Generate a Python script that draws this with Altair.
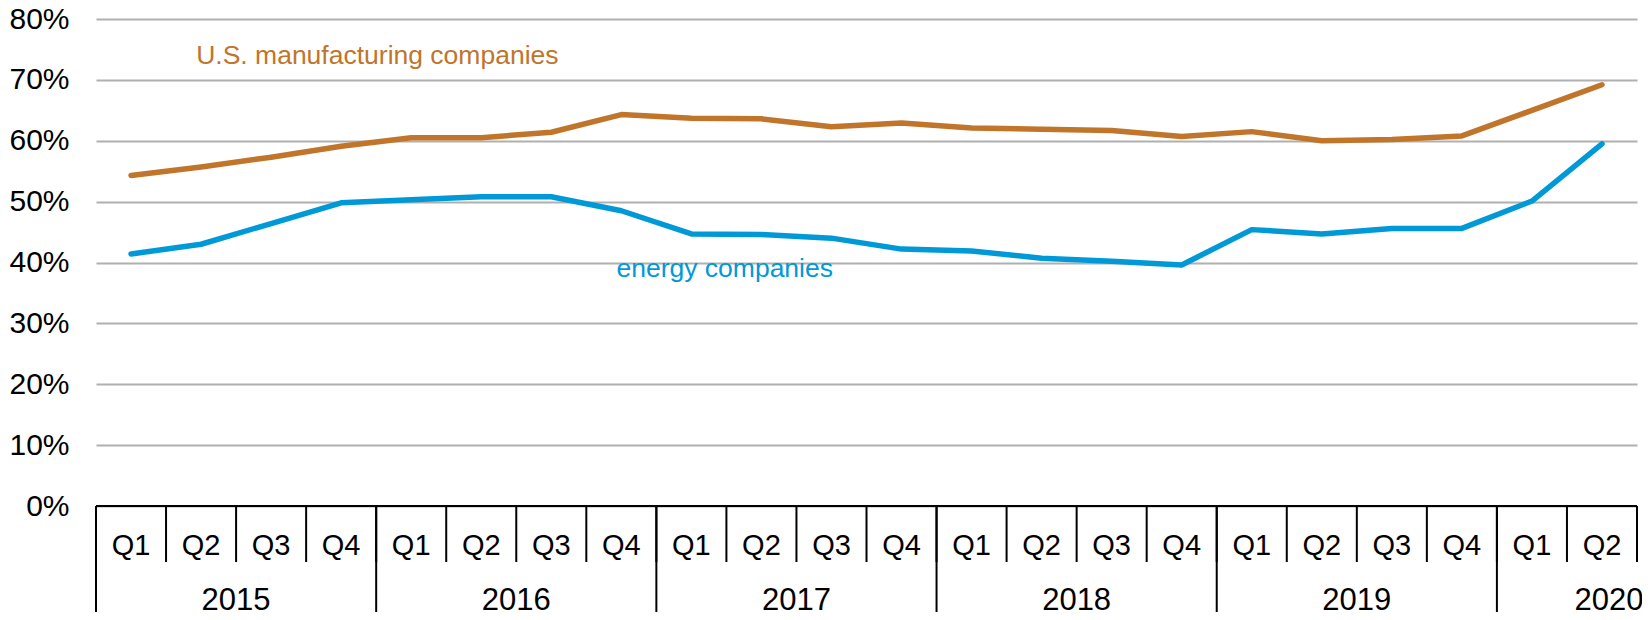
import altair as alt
import pandas as pd

# ---- data ----
years = ["2015"] * 4 + ["2016"] * 4 + ["2017"] * 4 + ["2018"] * 4 + ["2019"] * 4 + ["2020"] * 2
quarters = ["Q1", "Q2", "Q3", "Q4"] * 5 + ["Q1", "Q2"]
manufacturing = [54.3, 55.7, 57.3, 59.1, 60.5, 60.5, 61.4, 64.3,
                 63.7, 63.6, 62.3, 62.9, 62.1, 61.9, 61.7, 60.7,
                 61.5, 60.0, 60.2, 60.8, 65.0, 69.2]
energy = [41.4, 43.0, 46.4, 49.8, 50.3, 50.8, 50.8, 48.5,
          44.7, 44.6, 44.0, 42.2, 41.9, 40.7, 40.2, 39.6,
          45.4, 44.7, 45.6, 45.6, 50.1, 59.5]
series_names = ["U.S. manufacturing companies", "energy companies"]
series_colors = ["#C0752B", "#0099D8"]
# annotation anchors (category-index units, percent)
label_x = [1.43, 7.43]
label_y = [72.6, 37.6]
y_ticks = [0, 10, 20, 30, 40, 50, 60, 70, 80]

FONT = "Liberation Sans"
n = len(quarters)

rows = []
for name, vals in zip(series_names, [manufacturing, energy]):
    for i, v in enumerate(vals):
        rows.append({"series": name, "pos": i + 0.5, "value": v})
df_lines = pd.DataFrame(rows)

df_q = pd.DataFrame({"pos": [i + 0.5 for i in range(n)], "quarter": quarters})
df_bounds = pd.DataFrame({"b": list(range(n + 1))})
year_starts = [i for i in range(n) if i == 0 or years[i] != years[i - 1]]
df_ybounds = pd.DataFrame({"b": year_starts})

year_rows = []
for y in dict.fromkeys(years):
    idx = [i for i, yy in enumerate(years) if yy == y]
    year_rows.append({"year": y, "center": sum(i + 0.5 for i in idx) / len(idx), "full": len(idx) == 4})
df_years = pd.DataFrame(year_rows)
df_zero = pd.DataFrame({"x0": [0], "x1": [n], "y": [0]})
df_labels = pd.DataFrame({"series": series_names, "lx": label_x, "ly": label_y})

xscale = alt.Scale(domain=[0, n], nice=False, zero=False)
yscale = alt.Scale(domain=[0, 80], nice=False)
yaxis = alt.Axis(values=y_ticks, labelExpr="datum.value + '%'", grid=True,
                 gridColor="#B0B0B0", gridWidth=2, domain=False, ticks=False,
                 labelFontSize=30, labelPadding=27, labelColor="#000000",
                 labelFont=FONT, title=None)
cscale = alt.Scale(domain=series_names, range=series_colors)

lines = alt.Chart(df_lines).mark_line(strokeWidth=5.5, strokeCap="round", strokeJoin="round").encode(
    x=alt.X("pos:Q", scale=xscale, axis=None),
    y=alt.Y("value:Q", scale=yscale, axis=yaxis),
    color=alt.Color("series:N", scale=cscale, legend=None),
)

zero = alt.Chart(df_zero).mark_rule(color="#000000", strokeWidth=2).encode(
    x=alt.X("x0:Q", scale=xscale, axis=None),
    x2="x1:Q",
    y=alt.Y("y:Q", scale=yscale, axis=yaxis),
)

qsep = alt.Chart(df_bounds).mark_rule(color="#000000", strokeWidth=2).encode(
    x=alt.X("b:Q", scale=xscale, axis=None),
    y=alt.value(487), y2=alt.value(543),
)
ysep = alt.Chart(df_ybounds).mark_rule(color="#000000", strokeWidth=2).encode(
    x=alt.X("b:Q", scale=xscale, axis=None),
    y=alt.value(487), y2=alt.value(620),
)

qlab = alt.Chart(df_q).mark_text(font=FONT, fontSize=29, align="center", baseline="alphabetic", color="#000000").encode(
    x=alt.X("pos:Q", scale=xscale, axis=None),
    y=alt.value(536),
    text="quarter:N",
)
ylab_full = alt.Chart(df_years).transform_filter("datum.full").mark_text(
    font=FONT, fontSize=31, align="center", baseline="alphabetic", color="#000000").encode(
    x=alt.X("center:Q", scale=xscale, axis=None),
    y=alt.value(591),
    text="year:N",
)
ylab_part = alt.Chart(df_years).transform_filter("!datum.full").mark_text(
    font=FONT, fontSize=31, align="center", baseline="alphabetic", color="#000000", dx=42).encode(
    x=alt.X("center:Q", scale=xscale, axis=None),
    y=alt.value(591),
    text="year:N",
)

slab = alt.Chart(df_labels).mark_text(font=FONT, fontSize=26.5, align="left", baseline="alphabetic").encode(
    x=alt.X("lx:Q", scale=xscale, axis=None),
    y=alt.Y("ly:Q", scale=yscale, axis=yaxis),
    text="series:N",
    color=alt.Color("series:N", scale=cscale, legend=None),
)

chart = alt.layer(lines, zero, qsep, ysep, qlab, ylab_full, ylab_part, slab).properties(
    width=1541, height=487,
    padding={"left": 88, "top": 11, "right": 5, "bottom": 106},
    autosize=alt.AutoSizeParams(type="none"),
    background="#FFFFFF",
).configure_view(stroke=None)

chart.save("out.html", embed_options={"renderer": "svg", "actions": False})
